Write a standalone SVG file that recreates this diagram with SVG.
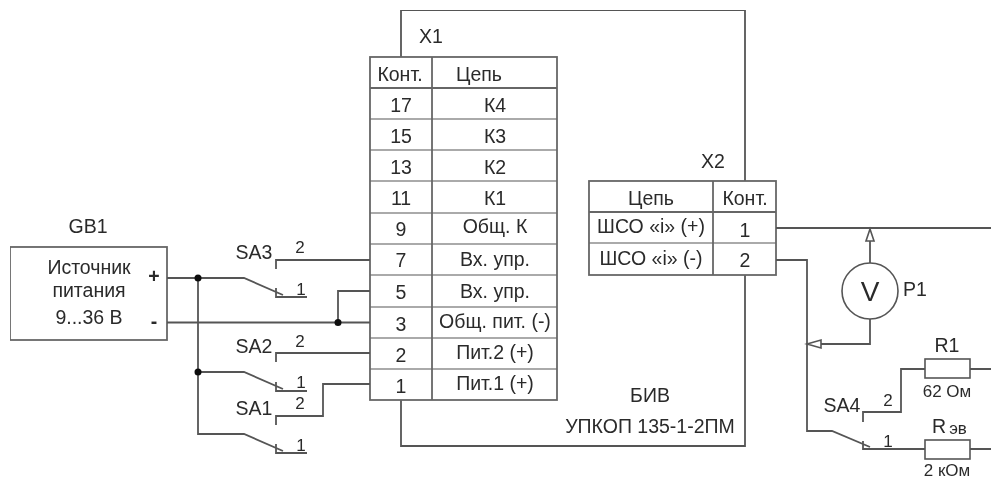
<svg xmlns="http://www.w3.org/2000/svg" width="991" height="477" viewBox="0 0 991 477">
<style>
text{font-family:"Liberation Sans",Arial,sans-serif;font-size:19.500px;fill:#2b2b2b;text-anchor:middle}
.s{font-size:17px}
.o{font-size:17px}
.w{fill:none;stroke:#555;stroke-width:1.800}
.t{fill:none;stroke:#666;stroke-width:1.800}
.g{fill:none;stroke:#aaa;stroke-width:1.800}
.a{fill:#fff;stroke:#555;stroke-width:1.600}
.d{fill:#111}
</style>
<defs><filter id="soft" x="0" y="0" width="100%" height="100%"><feGaussianBlur stdDeviation="0.400"/></filter></defs>
<rect width="991" height="477" fill="#fff"/>
<g filter="url(#soft)">
<g id="BIV">
<path class="w" d="M401 57V10H745V181M745 275V446H401V400"/>
<text x="431" y="43">X1</text>
<text x="713" y="168">X2</text>
<text x="650" y="402">БИВ</text>
<text x="650" y="433">УПКОП 135-1-2ПМ</text>
</g>
<g id="X1">
<path class="g" d="M370 119H557M370 150H557M370 181H557M370 213H557M370 244H557M370 275H557M370 307H557M370 338H557M370 369H557"/>
<path class="t" d="M370 88H557"/>
<rect class="t" x="370" y="57" width="187" height="343"/>
<path class="t" d="M432 57V400"/>
<text x="400" y="81">Конт.</text><text x="479" y="81">Цепь</text>
<text x="401" y="112">17</text><text x="495" y="112">К4</text>
<text x="401" y="143">15</text><text x="495" y="143">К3</text>
<text x="401" y="174">13</text><text x="495" y="174">К2</text>
<text x="401" y="205">11</text><text x="495" y="205">К1</text>
<text x="401" y="236">9</text><text x="495" y="233">Общ. К</text>
<text x="401" y="267">7</text><text x="495" y="266">Вх. упр.</text>
<text x="401" y="299">5</text><text x="495" y="298">Вх. упр.</text>
<text x="401" y="331">3</text><text x="495" y="328">Общ. пит. (-)</text>
<text x="401" y="362">2</text><text x="495" y="359">Пит.2 (+)</text>
<text x="401" y="393">1</text><text x="495" y="390">Пит.1 (+)</text>
</g>
<g id="X2">
<path class="g" d="M589 243H776"/>
<path class="t" d="M589 212H776"/>
<rect class="t" x="589" y="181" width="187" height="94"/>
<path class="t" d="M713 181V275"/>
<text x="651" y="205">Цепь</text><text x="745" y="205">Конт.</text>
<text x="651" y="233">ШСО «i» (+)</text><text x="745" y="237">1</text>
<text x="651" y="265">ШСО «i» (-)</text><text x="745" y="267">2</text>
</g>
<g id="GB1">
<rect class="t" x="10" y="247" width="157" height="93"/>
<text x="88" y="233">GB1</text>
<text x="89" y="274">Источник</text>
<text x="89" y="297">питания</text>
<text x="89" y="324">9...36 В</text>
<text x="154" y="283" style="font-weight:bold">+</text>
<text x="154" y="328" style="font-weight:bold">-</text>
</g>
<g id="connectors">
<path class="w" d="M167 278H244L283 295M276 288V297H307"/>
<path class="w" d="M167 322.500H370"/>
<path class="w" d="M338 322.500V291H370"/>
<path class="w" d="M198 278V434H244L283 451M276 444V453H307"/>
<path class="w" d="M198 372H244L283 389M276 382V391H307"/>
<path class="w" d="M276 269V260H370"/>
<path class="w" d="M276 362V353H370"/>
<path class="w" d="M276 425V416H323V384H370"/>
<path class="w" d="M776 228H991"/>
<path class="w" d="M870 241V263M870 319V344H821"/>
<path class="w" d="M776 260H807V431H832L870 447M863 441V449H925"/>
<path class="w" d="M863 422V412H901V369H925M970 369H991M970 449H991"/>
<path class="a" d="M870 229L866 241H874Z"/>
<path class="a" d="M807 344L821 340V348Z"/>
<circle class="d" cx="198" cy="278" r="3.500"/>
<circle class="d" cx="198" cy="372" r="3.500"/>
<circle class="d" cx="338" cy="322.500" r="3.500"/>
</g>
<g id="SA3"><text x="254" y="259">SA3</text><text x="300" y="253" class="s">2</text><text x="301" y="295" class="s">1</text></g>
<g id="SA2"><text x="254" y="353">SA2</text><text x="300" y="347" class="s">2</text><text x="301" y="388" class="s">1</text></g>
<g id="SA1"><text x="254" y="415">SA1</text><text x="300" y="409" class="s">2</text><text x="301" y="451" class="s">1</text></g>
<g id="P1">
<circle cx="870" cy="291" r="28" fill="#fff" stroke="#555" stroke-width="1.600"/>
<text x="870" y="301" style="font-size:28px">V</text>
<text x="915" y="296">P1</text>
</g>
<g id="SA4"><text x="842" y="412">SA4</text><text x="888" y="406" class="s">2</text><text x="888" y="447" class="s">1</text></g>
<g id="R1">
<rect class="a" x="925" y="359" width="45" height="19"/>
<text x="947" y="352">R1</text>
<text x="947" y="397" class="o">62 Ом</text>
</g>
<g id="Rev">
<rect class="a" x="925" y="440" width="45" height="19"/>
<text x="939" y="433">R</text><text x="958" y="434" class="o">эв</text>
<text x="947" y="476" class="o">2 кОм</text>
</g>
</g>
</svg>
